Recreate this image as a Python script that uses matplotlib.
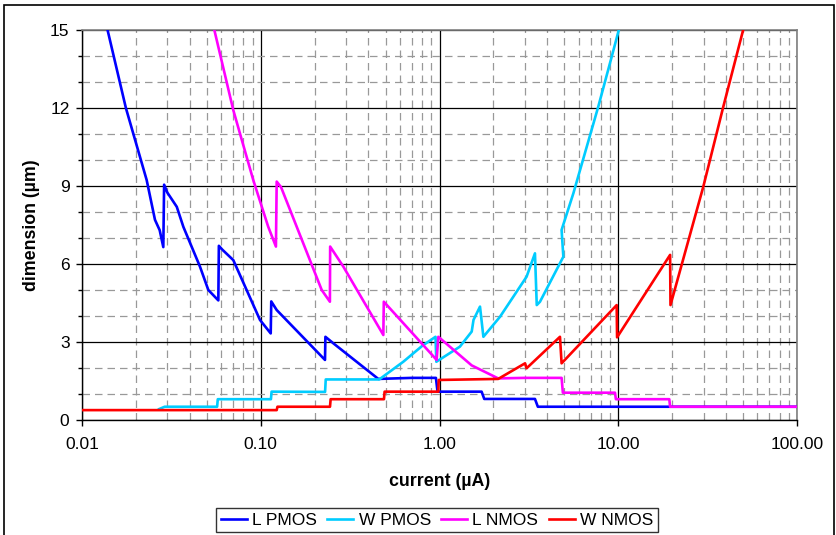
import matplotlib
matplotlib.use("Agg")
import matplotlib.pyplot as plt
from matplotlib.ticker import FixedLocator, NullFormatter, LogLocator, FixedFormatter
from matplotlib.patches import Rectangle

plt.rcParams['font.family'] = ['Liberation Sans', 'DejaVu Sans']

# ---- data (current in uA, dimension in um) ----
l_pmos_x = [0.0125, 0.0139, 0.0176, 0.0230, 0.0256, 0.0272, 0.0285, 0.0288, 0.0300, 0.0339,
            0.0369, 0.0457, 0.0509, 0.0579, 0.0583, 0.0610, 0.0702, 0.0990, 0.1137, 0.1145,
            0.1228, 0.2288, 0.2300, 0.2547, 0.4545, 0.70, 0.955, 0.975, 1.72, 1.78, 3.42,
            3.55, 100.0]
l_pmos_y = [16.6, 15.0, 12.0, 9.23, 7.7, 7.3, 6.65, 9.05, 8.75, 8.2,
            7.43, 5.9, 5.0, 4.6, 6.7, 6.55, 6.15, 3.85, 3.33, 4.56,
            4.23, 2.31, 3.2, 2.95, 1.58, 1.62, 1.62, 1.09, 1.09, 0.81, 0.81,
            0.51, 0.51]

w_pmos_x = [0.027, 0.029, 0.057, 0.0575, 0.114, 0.115, 0.229, 0.231, 0.46, 0.627, 0.80, 0.95,
            0.96, 1.30, 1.514, 1.55, 1.685, 1.76, 2.18, 3.07, 3.42, 3.50, 3.65, 4.93, 4.82,
            5.61, 7.73, 9.19, 10.1, 10.3]
w_pmos_y = [0.42, 0.51, 0.51, 0.80, 0.80, 1.09, 1.08, 1.56, 1.56, 2.24, 2.85, 3.2,
            2.24, 2.82, 3.40, 3.85, 4.36, 3.2, 3.97, 5.51, 6.41, 4.42, 4.55, 6.28, 7.31,
            8.72, 12.05, 13.97, 15.03, 15.6]

l_nmos_x = [0.052, 0.0550, 0.0702, 0.0908, 0.110, 0.1216, 0.1228, 0.130, 0.2193, 0.2437,
            0.2445, 0.2897, 0.485, 0.488, 0.964, 0.985, 1.514, 2.13, 3.0, 4.82, 4.90, 9.59,
            9.70, 19.3, 19.5, 100.0]
l_nmos_y = [16.0, 15.0, 11.92, 9.23, 7.44, 6.67, 9.17, 8.95, 5.0, 4.55,
            6.67, 5.9, 3.27, 4.55, 2.31, 3.2, 2.1, 1.6, 1.62, 1.62, 1.05, 1.05,
            0.80, 0.80, 0.51, 0.51]

w_nmos_x = [0.01, 0.1228, 0.124, 0.244, 0.246, 0.489, 0.493, 0.985, 0.99, 2.13, 3.01, 3.07,
            4.72, 4.82, 9.80, 9.85, 19.5, 19.6, 29.9, 38.7, 50.1, 51.5]
w_nmos_y = [0.38, 0.38, 0.51, 0.51, 0.80, 0.80, 1.09, 1.09, 1.54, 1.58, 2.18, 1.99,
            3.2, 2.18, 4.42, 3.18, 6.35, 4.42, 8.97, 12.05, 15.03, 15.5]

series = [("L PMOS", l_pmos_x, l_pmos_y, "#0000FF"),
          ("W PMOS", w_pmos_x, w_pmos_y, "#00CCFF"),
          ("L NMOS", l_nmos_x, l_nmos_y, "#FF00FF"),
          ("W NMOS", w_nmos_x, w_nmos_y, "#FF0000")]

x_ticks = [0.01, 0.1, 1, 10, 100]
x_tick_labels = ["0.01", "0.10", "1.00", "10.00", "100.00"]
y_ticks = [0, 3, 6, 9, 12, 15]

fig = plt.figure(figsize=(8.36, 5.35), dpi=100)
ax = fig.add_axes([82/836, 1-420/535, (797-82)/836, (420-30)/535])

for name, xs, ys, c in series:
    ax.plot(xs, ys, color=c, lw=1.9, label=name, solid_joinstyle='round', zorder=3)

ax.set_xscale('log')
ax.set_xlim(0.01, 100)
ax.set_ylim(0, 15)

ax.xaxis.set_major_locator(FixedLocator(x_ticks))
ax.xaxis.set_major_formatter(FixedFormatter(x_tick_labels))
ax.xaxis.set_minor_locator(LogLocator(base=10, subs=range(2, 10), numticks=20))
ax.xaxis.set_minor_formatter(NullFormatter())
ax.yaxis.set_major_locator(FixedLocator(y_ticks))
ax.yaxis.set_minor_locator(FixedLocator([v for v in range(0, 16) if v % 3 != 0]))

ax.grid(which='major', color='black', lw=0.9, zorder=1)
ax.grid(which='minor', color='#999999', lw=0.9, linestyle=(0, (6, 4)), zorder=1)
ax.set_axisbelow(True)

ax.tick_params(axis='both', which='major', direction='out', length=4, width=1,
               labelsize=12.5, color='black')
ax.tick_params(axis='x', which='major', pad=8)
ax.tick_params(axis='y', which='major', pad=5)
ax.tick_params(axis='x', which='minor', length=0)
ax.tick_params(axis='y', which='minor', direction='out', length=3, width=1, color='black')

for s in ['top', 'right']:
    ax.spines[s].set_color('#808080')
    ax.spines[s].set_linewidth(1.2)
for s in ['left', 'bottom']:
    ax.spines[s].set_color('black')
    ax.spines[s].set_linewidth(1.0)

ax.set_xlabel("current (µA)", fontsize=12.8, fontweight='bold', labelpad=15)
ax.set_ylabel("dimension (µm)", fontsize=12.8, fontweight='bold', labelpad=7)

leg = fig.legend(loc='center', bbox_to_anchor=(437/836, 1-520/535), ncol=4,
                 fontsize=12.5, frameon=True, fancybox=False, edgecolor='black',
                 handlelength=1.5, handletextpad=0.3, columnspacing=0.6,
                 borderpad=0.25, borderaxespad=0)
leg.get_frame().set_linewidth(1.0)

fig.patches.append(Rectangle((4/836, -0.01), (834-4)/836, 1.0 - 5/535 + 0.01,
                             transform=fig.transFigure, fill=False, edgecolor='black', lw=1.2))

fig.savefig("out.png", dpi=100)
